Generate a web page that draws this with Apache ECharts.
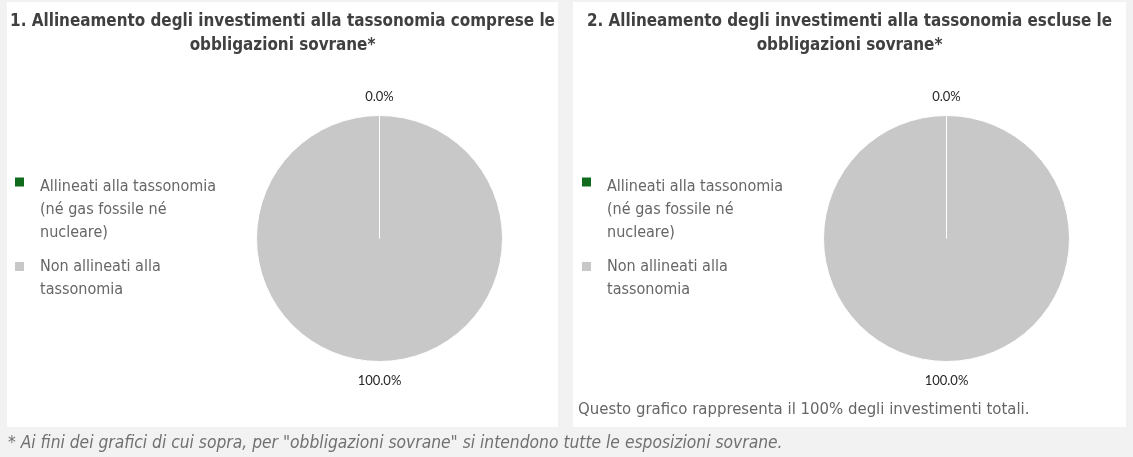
<!DOCTYPE html>
<html>
<head>
<meta charset="utf-8">
<script src="https://cdn.jsdelivr.net/npm/echarts@6/dist/echarts.min.js"></script>
<style>
html,body{margin:0;padding:0;background:#f2f2f2;}
#c{width:1133px;height:457px;}
</style>
</head>
<body>
<div id="c"></div>
<script>
// ---- data ----
const categories = ['Allineati alla tassonomia (né gas fossile né nucleare)', 'Non allineati alla tassonomia'];
const legendLabels = ['Allineati alla tassonomia\n(né gas fossile né\nnucleare)', 'Non allineati alla\ntassonomia'];
const chart1Values = [0.0, 100.0];
const chart2Values = [0.0, 100.0];
const chartTitles = [
  '1. Allineamento degli investimenti alla tassonomia comprese le\nobbligazioni sovrane*',
  '2. Allineamento degli investimenti alla tassonomia escluse le\nobbligazioni sovrane*'
];
const noteText = 'Questo grafico rappresenta il 100% degli investimenti totali.';
const footnoteText = '* Ai fini dei grafici di cui sopra, per "obbligazioni sovrane" si intendono tutte le esposizioni sovrane.';
const colors = ['#106b1c', '#c8c8c8'];

// ---- layout ----
const FONT = '"DejaVu Sans Condensed", "DejaVu Sans", sans-serif';
const panels = [{x: 7, w: 551, cx: 379.5, lx: 15}, {x: 573, w: 553, cx: 946.5, lx: 582}];
const values = [chart1Values, chart2Values];

// legend icons: square aligned with the first text line (box 9 x 69)
const legendIcons = ['path://M0,0M0,69M0,2h9v9h-9z', 'path://M0,0M0,69M0,18h9v9h-9z'];

const option = {
  backgroundColor: '#f2f2f2',
  animation: false,
  graphic: panels.map(p => ({
    type: 'rect', z: -10, silent: true,
    shape: {x: p.x, y: 2, width: p.w, height: 425},
    style: {fill: '#ffffff'}
  })),
  title: [
    ...panels.map((p, i) => ({
      text: chartTitles[i],
      left: p.x + p.w / 2, top: 10, textAlign: 'center', padding: 0,
      textStyle: {fontFamily: FONT, fontSize: 16.9, fontWeight: 'bold', color: '#404040', lineHeight: 24}
    })),
    {
      text: noteText, left: 578, top: 399, padding: 0,
      textStyle: {fontFamily: FONT, fontSize: 16.6, fontWeight: 'normal', color: '#666666', lineHeight: 22}
    },
    {
      text: footnoteText, left: 8, top: 433, padding: 0,
      textStyle: {fontFamily: FONT, fontSize: 17.3, fontStyle: 'italic', fontWeight: 'normal', color: '#707070', lineHeight: 22}
    }
  ],
  legend: panels.map((p, i) => ({
    seriesIndex: i,
    orient: 'vertical',
    left: p.lx, top: 175.5, padding: 0,
    itemWidth: 9, itemHeight: 69, itemGap: -0.5,
    selectedMode: false,
    itemStyle: {borderWidth: 0},
    data: categories.map((c, k) => ({name: c, icon: legendIcons[k]})),
    formatter: name => legendLabels[categories.indexOf(name)],
    textStyle: {fontFamily: FONT, fontSize: 16, color: '#666666', lineHeight: 23, padding: [0, 0, 0, 11]}
  })),
  series: panels.map((p, i) => ({
    type: 'pie',
    center: [p.cx, 238.5],
    radius: 123,
    startAngle: 90,
    clockwise: true,
    avoidLabelOverlap: false,
    silent: true,
    itemStyle: {borderColor: '#ffffff', borderWidth: 1},
    label: {
      show: true, position: 'outside', distanceToLabelLine: 0,
      formatter: prm => prm.value.toFixed(1) + '%',
      fontFamily: 'Lato, "Open Sans", sans-serif', fontSize: 13, color: '#262626'
    },
    labelLine: {show: false, length: 19, length2: 0},
    labelLayout: () => ({align: 'center', verticalAlign: 'middle'}),
    // drawn in reverse so the zero slice's white edge sits on top of the full slice
    data: categories.map((c, k) => ({name: c, value: values[i][k], itemStyle: {color: colors[k]}})).reverse()
  }))
};

const chart = echarts.init(document.getElementById('c'), null, {renderer: 'canvas'});
chart.setOption(option);
</script>
</body>
</html>
